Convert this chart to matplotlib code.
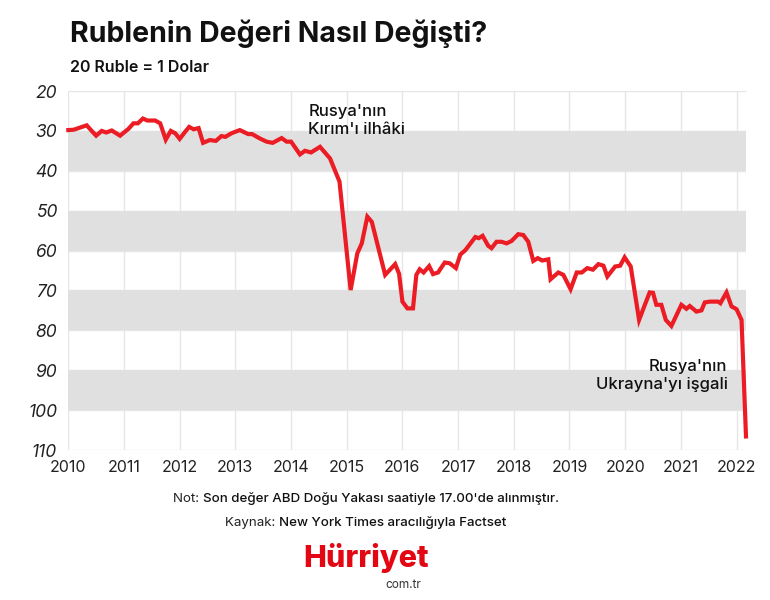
import matplotlib
matplotlib.use("Agg")
import matplotlib.pyplot as plt
from matplotlib import font_manager as fm

# ---------------- data ----------------
years = [2010.00, 2010.10, 2010.33, 2010.42, 2010.50, 2010.60, 2010.68, 2010.78, 2010.93,
         2011.08, 2011.17, 2011.25, 2011.34, 2011.42, 2011.56, 2011.65, 2011.75, 2011.84, 2011.92,
         2012.00, 2012.10, 2012.17, 2012.25, 2012.34, 2012.42, 2012.54, 2012.65, 2012.75, 2012.82, 2012.93,
         2013.08, 2013.23, 2013.30, 2013.44, 2013.56, 2013.67, 2013.83, 2013.92, 2014.00,
         2014.16, 2014.25, 2014.36, 2014.52, 2014.70, 2014.87,
         2015.07, 2015.19, 2015.27, 2015.37, 2015.45, 2015.69, 2015.87, 2015.94,
         2016.00, 2016.09, 2016.19, 2016.25, 2016.31, 2016.38, 2016.48, 2016.55, 2016.64, 2016.76, 2016.85, 2016.96,
         2017.04, 2017.13, 2017.31, 2017.37, 2017.44, 2017.54, 2017.60, 2017.69, 2017.78, 2017.87, 2017.96,
         2018.08, 2018.17, 2018.26, 2018.35, 2018.43, 2018.51, 2018.62, 2018.66, 2018.80, 2018.89,
         2019.02, 2019.13, 2019.22, 2019.32, 2019.42, 2019.52, 2019.61, 2019.68, 2019.82, 2019.91, 2019.99,
         2020.10, 2020.25, 2020.34, 2020.44, 2020.50, 2020.56, 2020.65, 2020.73, 2020.83,
         2021.01, 2021.10, 2021.16, 2021.28, 2021.37, 2021.43, 2021.52, 2021.67, 2021.71, 2021.82, 2021.91,
         2022.00, 2022.09, 2022.17]
rubles = [29.8, 29.7, 28.6, 30.0, 31.2, 30.0, 30.4, 29.9, 31.2,
          29.5, 28.1, 28.1, 26.9, 27.4, 27.4, 28.1, 32.2, 30.0, 30.6,
          32.0, 30.2, 29.0, 29.6, 29.3, 33.0, 32.3, 32.5, 31.3, 31.5, 30.6,
          29.8, 30.8, 30.8, 31.9, 32.7, 33.0, 31.8, 32.7, 32.7,
          35.9, 35.0, 35.4, 34.0, 36.9, 42.7,
          69.9, 60.7, 58.2, 51.5, 52.8, 66.1, 63.4, 65.8,
          72.8, 74.5, 74.5, 66.1, 64.7, 65.5, 63.9, 65.9, 65.5, 63.0, 63.2, 64.4,
          61.0, 59.9, 56.6, 56.9, 56.3, 58.8, 59.4, 57.8, 57.8, 58.2, 57.6,
          55.9, 56.1, 57.8, 62.6, 61.9, 62.5, 62.2, 67.2, 65.5, 66.1,
          69.7, 65.5, 65.5, 64.4, 64.8, 63.4, 63.8, 66.5, 64.0, 63.8, 61.7,
          64.0, 77.4, 74.1, 70.5, 70.6, 73.6, 73.6, 77.4, 78.9,
          73.6, 74.6, 73.9, 75.3, 75.0, 73.0, 72.8, 72.8, 73.2, 70.5, 74.0,
          74.7, 77.4, 106.6]
x_ticks = list(range(2010, 2023))
y_ticks = list(range(20, 111, 10))
bands = [(30, 40), (50, 60), (70, 80), (90, 100)]

title = "Rublenin Değeri Nasıl Değişti?"
subtitle = "20 Ruble = 1 Dolar"
note1 = ("Rusya'nın\nKırım'ı ilhâki", 2014.31, 27.5)
note2 = ("Rusya'nın\nUkrayna'yı işgali", 2021.84, 91.2)
foot1 = ("Not: ", "Son değer ABD Doğu Yakası saatiyle 17.00'de alınmıştır.")
foot2 = ("Kaynak: ", "New York Times aracılığıyla Factset")

# ---------------- style ----------------
def has_font(name):
    try:
        fm.findfont(fm.FontProperties(family=name), fallback_to_default=False)
        return True
    except Exception:
        return False

FONT = "Inter" if has_font("Inter") else "DejaVu Sans"
plt.rcParams["font.family"] = [FONT, "DejaVu Sans"]

RED = "#ec1c24"
BAND = "#e0e0e0"
GRID = "#e6e6e6"
TXT = "#111111"

W, H = 770, 600
fig = plt.figure(figsize=(W / 100, H / 100), dpi=100)
ax = fig.add_axes([68.3 / W, 1 - 450 / H, (746 - 68.3) / W, (450 - 91) / H])

ax.set_xlim(2010, 2022.17)
ax.set_ylim(110, 20)
for lo, hi in bands:
    ax.axhspan(lo, hi, color=BAND, lw=0, zorder=1)
ax.set_axisbelow(True)
ax.set_xticks(x_ticks)
ax.set_yticks(y_ticks)
ax.grid(True, color=GRID, lw=1.0, zorder=0)
for s in ax.spines.values():
    s.set_visible(False)
ax.tick_params(length=0, labelsize=11.5, colors="#222222")
ax.tick_params(axis="y", pad=8)
ax.tick_params(axis="x", pad=7)
for lab in ax.get_yticklabels():
    lab.set_fontstyle("italic")
    lab.set_fontsize(12.5)

ax.plot(years, rubles, color=RED, lw=3.0, solid_joinstyle="miter", zorder=3, clip_on=False)

ax.text(note1[1], note1[2], note1[0], ha="left", va="center", fontsize=12,
        fontweight="medium", color=TXT, linespacing=1.25, zorder=4)
ax.text(note2[1], note2[2], note2[0], ha="right", va="center", fontsize=12,
        fontweight="medium", color=TXT, linespacing=1.25, zorder=4)

fig.text(70 / W, 1 - 34 / H, title, fontsize=20.5, fontweight="bold", color=TXT, va="center")
fig.text(70 / W, 1 - 67 / H, subtitle, fontsize=11.5, fontweight="semibold", color=TXT, va="center")

# footer lines centred
fig.canvas.draw()
r = fig.canvas.get_renderer()
def centered_pair(parts, ycen, xcen):
    t1 = fig.text(0, 1 - ycen / H, parts[0], fontsize=9.6, color="#222222", va="center")
    t2 = fig.text(0, 1 - ycen / H, parts[1], fontsize=9.6, fontweight="medium", color=TXT, va="center")
    w1 = t1.get_window_extent(r).width
    w2 = t2.get_window_extent(r).width
    x0 = xcen - (w1 + w2) / 2
    t1.set_x(x0 / W)
    t2.set_x((x0 + w1) / W)

centered_pair(foot1, 499, 366)
centered_pair(foot2, 523, 366)

fig.text(366 / W, 1 - 558 / H, "Hürriyet", fontsize=22,
         fontweight="heavy", color="#e30613", ha="center", va="center")
fig.text(421 / W, 1 - 585 / H, "com.tr", fontsize=8.5, color="#333333", ha="right", va="center")

fig.savefig("out.png", dpi=100)
